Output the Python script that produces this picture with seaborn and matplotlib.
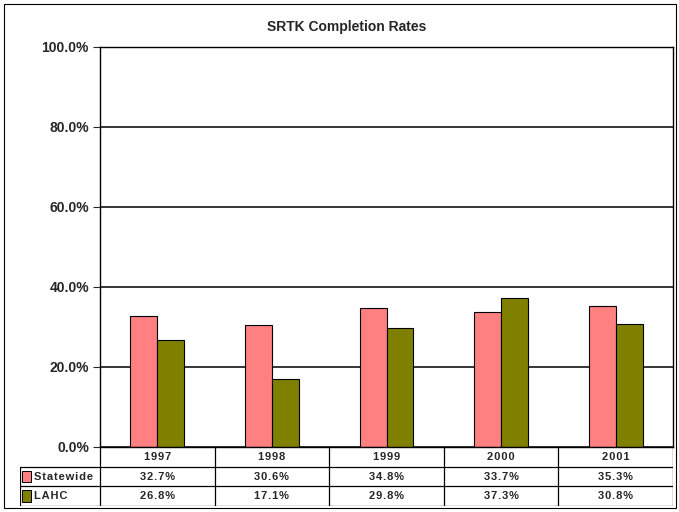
import pandas as pd
import matplotlib
matplotlib.use("Agg")
import matplotlib.pyplot as plt
import seaborn as sns
from matplotlib.patches import Rectangle

# data
years = ["1997", "1998", "1999", "2000", "2001"]
statewide = [32.7, 30.6, 34.8, 33.7, 35.3]
lahc = [26.8, 17.1, 29.8, 37.3, 30.8]
series_labels = ["Statewide", "LAHC"]
colors = ["#FF8080", "#808000"]

df = pd.DataFrame({
    "year": years * 2,
    "rate": statewide + lahc,
    "series": ["Statewide"] * len(years) + ["LAHC"] * len(years),
})

sns.set_style("white")
plt.rcParams["font.family"] = ["Liberation Sans", "DejaVu Sans"]

W, H = 679, 512
fig = plt.figure(figsize=(W / 100, H / 100), dpi=100)

# outer chart border
fig.patches.append(Rectangle((4 / W, 4 / H), 672 / W, 504 / H, transform=fig.transFigure,
                             fill=False, edgecolor="black", linewidth=0.8))

ax = fig.add_axes([100 / W, (H - 447) / H, 573 / W, 400 / H])
sns.barplot(data=df, x="year", y="rate", hue="series", palette=colors, width=0.47,
            edgecolor="black", linewidth=0.8, saturation=1, legend=False, ax=ax)
ax.set_xlim(-0.5, 4.5)
ax.set_ylim(0, 100)
ax.set_yticks([0, 20, 40, 60, 80, 100])
ax.set_yticklabels([f"{v:.1f}%" for v in [0, 20, 40, 60, 80, 100]],
                   fontsize=10, fontweight="bold")
ax.tick_params(axis="y", direction="out", length=5, width=0.8, pad=3, left=True)
ax.set_xticks([])
ax.set_xlabel("")
ax.set_ylabel("")
ax.yaxis.grid(True, color="black", linewidth=1.1)
ax.set_axisbelow(True)
for s in ax.spines.values():
    s.set_color("black")
    s.set_linewidth(1.0)

fig.text(347 / W, (H - 27) / H, "SRTK Completion Rates", ha="center", va="center",
         fontsize=10, fontweight="bold")

# data table below the plot
unit = 573 / 5
x_left = -0.5 - 80 / unit
tab = fig.add_axes([20 / W, (H - 506) / H, 653 / W, 59 / H])
tab.set_xlim(x_left, 4.5)
tab.set_ylim(3, 0)
tab.axis("off")

def spaced(t):
    return "\u200a".join(t)

lw = 0.9
for yy in [1, 2, 3]:
    tab.plot([x_left, 4.5], [yy, yy], color="black", linewidth=lw)
for xx in [-0.5, 0.5, 1.5, 2.5, 3.5, 4.5]:
    tab.plot([xx, xx], [0, 3], color="black", linewidth=lw)
tab.plot([x_left, x_left], [1, 3], color="black", linewidth=lw)

for i, y in enumerate(years):
    tab.text(i, 0.5, spaced(y), ha="center", va="center", fontsize=8, fontweight="bold")

rows = [statewide, lahc]
for r, (vals, lab, col) in enumerate(zip(rows, series_labels, colors)):
    yc = 1.5 + r
    tab.add_patch(Rectangle((x_left + 0.02, yc - 0.3), 0.075, 0.6, facecolor=col,
                            edgecolor="black", linewidth=0.7))
    tab.text(x_left + 0.125, yc, spaced(lab), ha="left", va="center", fontsize=8,
             fontweight="bold")
    for i, v in enumerate(vals):
        tab.text(i, yc, spaced(f"{v:.1f}%"), ha="center", va="center", fontsize=8,
                 fontweight="bold")

fig.savefig("out.png", dpi=100)
